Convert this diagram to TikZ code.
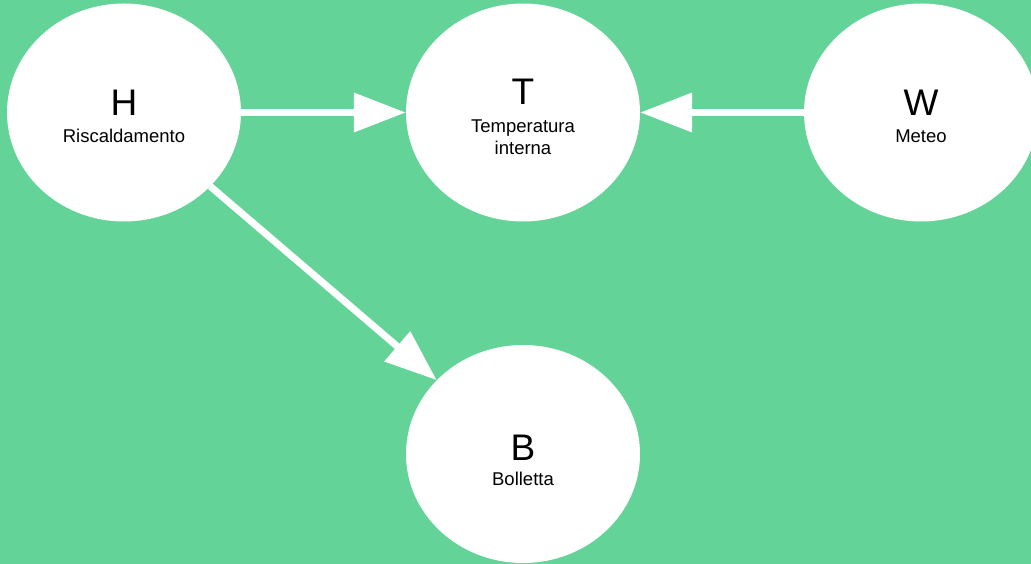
\documentclass[tikz,border=0pt]{standalone}
\usepackage{fontspec}
\setmainfont{Liberation Sans}
\usetikzlibrary{arrows.meta,shapes.geometric}
\definecolor{bg}{RGB}{100,211,152}
\tikzset{
  var/.style={ellipse,fill=white,draw=none,minimum width=234pt,minimum height=218pt,inner sep=0pt},
  big/.style={anchor=base,inner sep=0pt,font=\fontsize{37}{40}\selectfont},
  small/.style={anchor=base,inner sep=0pt,font=\fontsize{18.5}{21}\selectfont},
  link/.style={draw=white,line width=7pt,-{Triangle[length=52pt,width=38pt]},shorten >=0pt,shorten <=0pt}
}
\begin{document}
\begin{tikzpicture}[x=1pt,y=-1pt]
\useasboundingbox (0,0) rectangle (1031,564);
\clip (0,0) rectangle (1031,564);
\fill[bg] (0,0) rectangle (1031,564);
\node[var] (h) at (124,112.5) {};
\node[var] (t) at (523,112.5) {};
\node[var] (w) at (921,112.5) {};
\node[var] (b) at (523,454) {};
\node[big] (hl) at (124,116) {H};
\node[small] (hs) at (124,143) {Riscaldamento};
\node[big] (tl) at (523,105) {T};
\node[small] (ts1) at (523,133) {Temperatura};
\node[small] (ts2) at (523,155) {interna};
\node[big] (wl) at (921,116) {W};
\node[small] (ws) at (921,143) {Meteo};
\node[big] (bl) at (523,460) {B};
\node[small] (bs) at (523,485) {Bolletta};
\draw[link] (h) -- (t);
\draw[link] (w) -- (t);
\draw[link] (h) -- (b);
\end{tikzpicture}
\end{document}
